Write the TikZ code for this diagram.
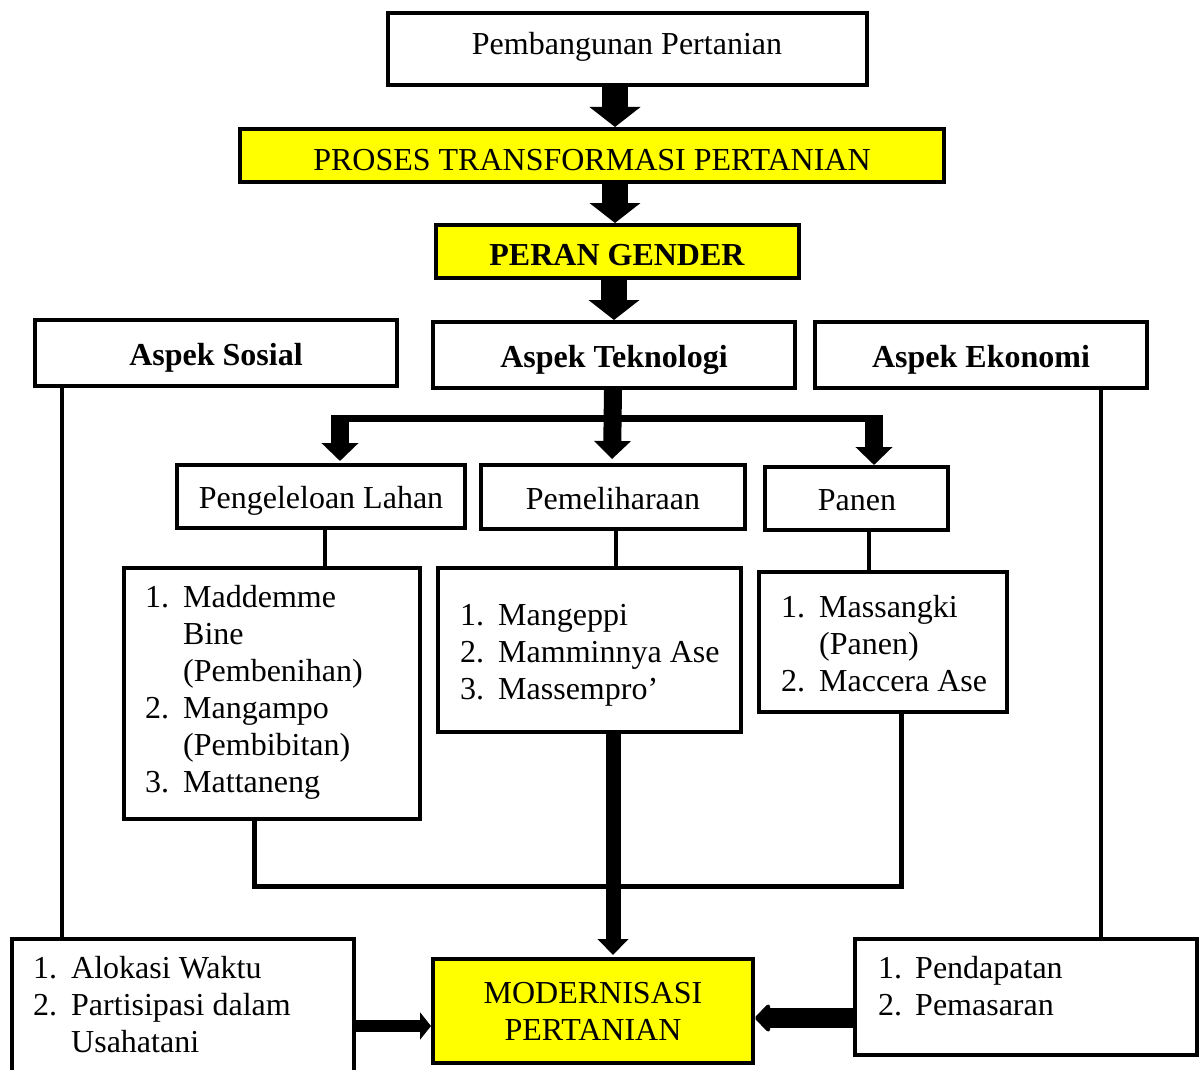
\documentclass[tikz,border=0pt]{standalone}
\usepackage{fontspec}
\setmainfont{Liberation Serif}
\usetikzlibrary{arrows.meta}
\definecolor{hl}{RGB}{255,255,0}
\begin{document}
\begin{tikzpicture}[x=1pt,y=-1pt,
  box/.style={draw, line width=4pt, inner sep=0pt, fill=white},
  ybox/.style={box, fill=hl},
  txt/.style={inner sep=0pt, anchor=base, font=\fontsize{32}{37}\selectfont},
  btxt/.style={txt, font=\fontsize{32}{37}\selectfont\bfseries},
  ltxt/.style={txt, anchor=base west},
  bigarrow/.style={line width=26pt, -{Triangle[width=50pt,length=20pt]}},
  midarrow/.style={line width=18pt, -{Triangle[width=36pt,length=18pt]}},
  downarrow/.style={line width=15pt, -{Triangle[width=30pt,length=16pt]}},
  rarrow/.style={line width=12pt, -{Triangle[width=27pt,length=11pt]}},
  larrow/.style={line width=20pt, -{Triangle[width=32pt,length=16pt,round]}},
  link/.style={line width=4pt},
  bar/.style={line width=7pt}]
\useasboundingbox (0,0) rectangle (1199,1070);

% boxes
\node[box, minimum width=479pt, minimum height=72pt] (top) at (627.5,49) {};
\node[ybox, minimum width=704pt, minimum height=53pt] (proses) at (592,155.5) {};
\node[ybox, minimum width=363pt, minimum height=53pt] (peran) at (617.5,251.5) {};
\node[box, minimum width=362pt, minimum height=66pt] (sosial) at (216,353) {};
\node[box, minimum width=362pt, minimum height=66pt] (tek) at (614,355) {};
\node[box, minimum width=332pt, minimum height=66pt] (eko) at (981,355) {};
\node[box, minimum width=288pt, minimum height=63pt] (lahan) at (321,496.5) {};
\node[box, minimum width=264pt, minimum height=64pt] (pemel) at (613,497) {};
\node[box, minimum width=183pt, minimum height=63pt] (panen) at (856.5,498.5) {};
\node[box, minimum width=296pt, minimum height=251pt] (l1) at (272,693.5) {};
\node[box, minimum width=303pt, minimum height=164pt] (l2) at (589.5,650) {};
\node[box, minimum width=248pt, minimum height=140pt] (l3) at (883,642) {};
\node[box, minimum width=342pt, minimum height=134pt] (lb) at (183,1006) {};
\node[ybox, minimum width=320pt, minimum height=104pt] (mod) at (593,1011) {};
\node[box, minimum width=342pt, minimum height=116pt] (rb) at (1026,997) {};

% texts
\node[txt] (ttop) at (627,55) {Pembangunan Pertanian};
\node[txt] (tproses) at (592,170) {PROSES TRANSFORMASI PERTANIAN};
\node[btxt] (tperan) at (617,265) {PERAN GENDER};
\node[btxt] (tsosial) at (216,365) {Aspek Sosial};
\node[btxt] (ttek) at (614,367) {Aspek Teknologi};
\node[btxt] (teko) at (981,367) {Aspek Ekonomi};
\node[txt] (tlahan) at (321,508) {Pengeleloan Lahan};
\node[txt] (tpemel) at (613,509) {Pemeliharaan};
\node[txt] (tpanen) at (857,510) {Panen};

\node[ltxt] (n11) at (145,607) {1.};
\node[ltxt] (a11) at (183,607) {Maddemme};
\node[ltxt] (a12) at (183,644) {Bine};
\node[ltxt] (a13) at (183,681) {(Pembenihan)};
\node[ltxt] (n12) at (145,718) {2.};
\node[ltxt] (a14) at (183,718) {Mangampo};
\node[ltxt] (a15) at (183,755) {(Pembibitan)};
\node[ltxt] (n13) at (145,792) {3.};
\node[ltxt] (a16) at (183,792) {Mattaneng};

\node[ltxt] (n21) at (460,625) {1.};
\node[ltxt] (a21) at (498,625) {Mangeppi};
\node[ltxt] (n22) at (460,662) {2.};
\node[ltxt] (a22) at (498,662) {Mamminnya Ase};
\node[ltxt] (n23) at (460,699) {3.};
\node[ltxt] (a23) at (498,699) {Massempro’};

\node[ltxt] (n31) at (781,617) {1.};
\node[ltxt] (a31) at (819,617) {Massangki};
\node[ltxt] (a32) at (819,654) {(Panen)};
\node[ltxt] (n32) at (781,691) {2.};
\node[ltxt] (a33) at (819,691) {Maccera Ase};

\node[ltxt] (n41) at (33,978) {1.};
\node[ltxt] (a41) at (71,978) {Alokasi Waktu};
\node[ltxt] (n42) at (33,1015) {2.};
\node[ltxt] (a42) at (71,1015) {Partisipasi dalam};
\node[ltxt] (a43) at (71,1052) {Usahatani};

\node[txt] (tmod1) at (593,1003) {MODERNISASI};
\node[txt] (tmod2) at (593,1040) {PERTANIAN};

\node[ltxt] (n51) at (878,978) {1.};
\node[ltxt] (a51) at (915,978) {Pendapatan};
\node[ltxt] (n52) at (878,1015) {2.};
\node[ltxt] (a52) at (915,1015) {Pemasaran};

% main chain
\draw[bigarrow] ([xshift=-12.5pt]top.south) -- ([xshift=23pt]proses.north);
\draw[bigarrow] ([xshift=23pt]proses.south) -- ([xshift=-2.5pt]peran.north);
\draw[bigarrow] ([xshift=-3.5pt]peran.south) -- ([xshift=0pt]tek.north);

% branching
\coordinate (bl) at (331,418);
\coordinate (br) at (881,418);
\coordinate (bla) at (340,415);
\coordinate (bra) at (874,415);
\draw[bar] (bl) -- (br);
\draw[midarrow, shorten >=4pt] ([xshift=-1pt]tek.south) -- ([xshift=-1pt]pemel.north);
\draw[midarrow, shorten >=2pt] (bla) -- (bla |- lahan.north);
\draw[midarrow] (bra) -- (bra |- panen.north);

% links to lists
\draw[link] ([xshift=4pt]lahan.south) -- ([xshift=53pt]l1.north);
\draw[link] ([xshift=3pt]pemel.south) -- ([xshift=26.5pt]l2.north);
\draw[link] ([xshift=12.5pt]panen.south) -- ([xshift=-14pt]l3.north);

% bottom loop
\coordinate (j) at (901,886);
\draw[line width=5pt] ([xshift=-18pt]l1.south) |- (j) -- ([xshift=18pt]l3.south);

% to modernisasi
\draw[downarrow, shorten >=2pt] ([xshift=23.5pt]l2.south) -- ([xshift=20pt]mod.north);
\draw[link] ([xshift=-154pt]sosial.south) -- ([xshift=-121pt]lb.north);
\draw[link] ([xshift=120pt]eko.south) -- ([xshift=75pt]rb.north);
\draw[rarrow] ([yshift=-20pt]lb.east) -- ([yshift=-15pt]mod.west);
\draw[larrow] ([yshift=-21pt]rb.west) -- ([yshift=-7pt]mod.east);
\end{tikzpicture}
\end{document}
